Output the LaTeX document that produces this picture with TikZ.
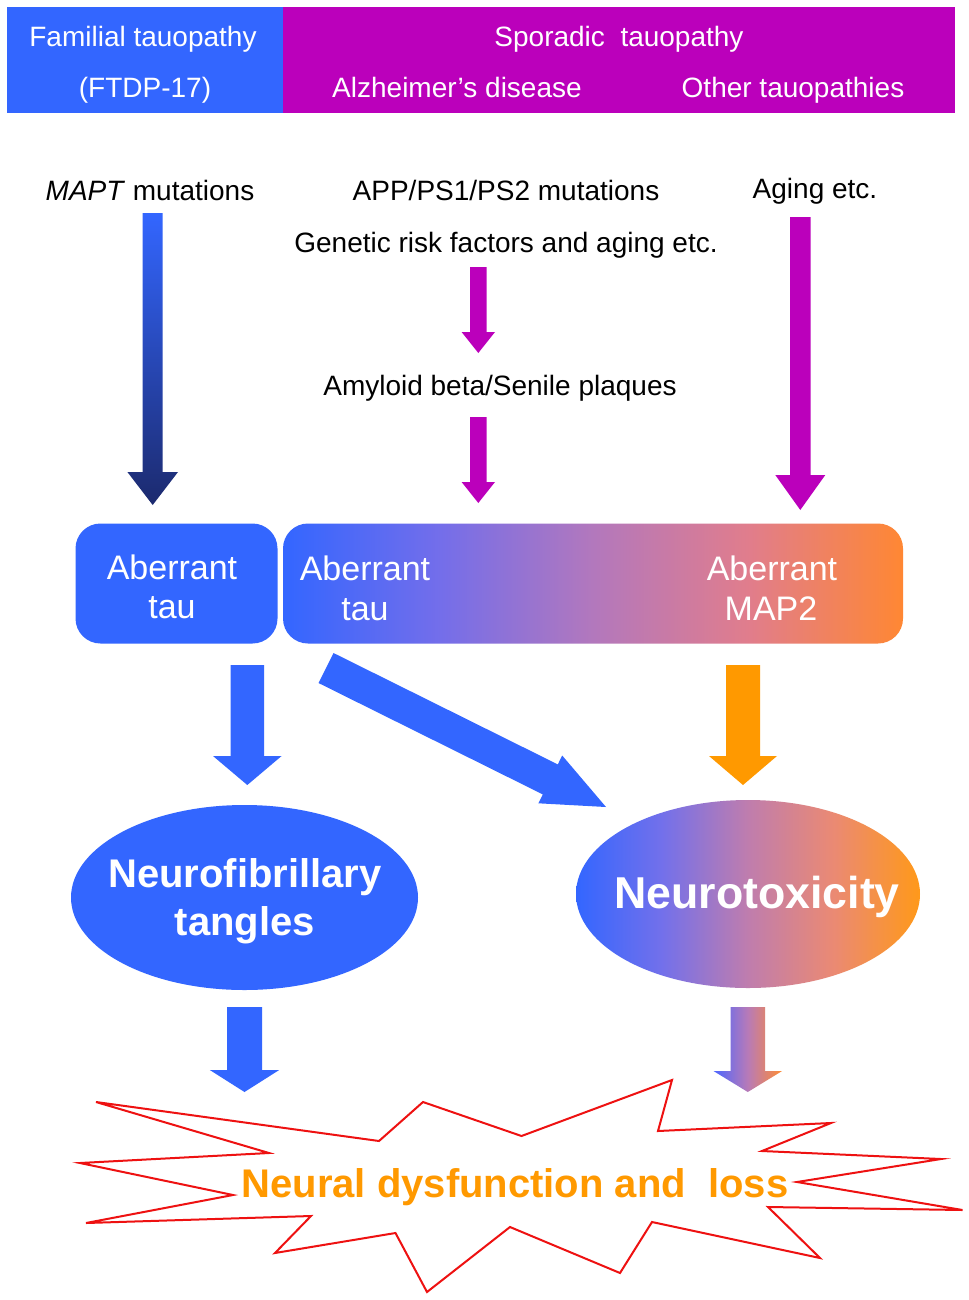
\documentclass[tikz,border=0pt]{standalone}
\usepackage{fontspec}
\setmainfont{Liberation Sans}
\usetikzlibrary{shapes.geometric}
\definecolor{tblue}{HTML}{3366FF}
\definecolor{tmag}{HTML}{BB00BB}
\definecolor{torange}{HTML}{FF9900}
\definecolor{tnavy}{HTML}{1C2A6E}
\definecolor{tgor}{HTML}{FF8833}
\definecolor{tred}{HTML}{EE1111}
\pgfdeclarehorizontalshading{boxgrad}{100bp}{%
  rgb(0bp)=(0.20,0.40,1.00);
  rgb(25bp)=(0.20,0.40,1.00);
  rgb(37.5bp)=(0.45,0.43,0.92);
  rgb(50bp)=(0.70,0.47,0.74);
  rgb(62.5bp)=(0.88,0.49,0.55);
  rgb(75bp)=(1.00,0.53,0.20);
  rgb(100bp)=(1.00,0.53,0.20)}
\pgfdeclarehorizontalshading{ovalgrad}{100bp}{%
  rgb(0bp)=(0.20,0.40,1.00);
  rgb(25bp)=(0.20,0.40,1.00);
  rgb(37.5bp)=(0.45,0.44,0.92);
  rgb(50bp)=(0.75,0.49,0.68);
  rgb(62.5bp)=(0.92,0.54,0.45);
  rgb(75bp)=(1.00,0.60,0.10);
  rgb(100bp)=(1.00,0.60,0.10)}
\pgfdeclarehorizontalshading{arrgrad}{100bp}{%
  rgb(0bp)=(0.30,0.40,1.00);
  rgb(25bp)=(0.30,0.40,1.00);
  rgb(50bp)=(0.72,0.48,0.72);
  rgb(75bp)=(1.00,0.55,0.20);
  rgb(100bp)=(1.00,0.55,0.20)}
% fat down arrow: x, ytop, shaft half width, head half width, y of head base, y of tip
\newcommand{\fatdownpath}[6]{({#1-#3},#2) -- ({#1+#3},#2) -- ({#1+#3},#5) -- ({#1+#4},#5) -- (#1,#6) -- ({#1-#4},#5) -- ({#1-#3},#5) -- cycle}
\begin{document}
\begin{tikzpicture}[x=0.75pt,y=-0.75pt,
  txt/.style={font=\fontsize{21}{25}\selectfont, anchor=base, inner sep=0pt},
  wtxt/.style={txt, text=white},
  boxtxt/.style={font=\fontsize{25.5}{30}\selectfont, anchor=base, inner sep=0pt, text=white},
  bigtxt/.style={font=\bfseries\fontsize{30}{36}\selectfont, anchor=base, inner sep=0pt},
  rbox/.style={rounded corners=18.75pt, minimum height=90pt, inner sep=0pt},
  oval/.style={ellipse, inner sep=0pt},
]
\useasboundingbox (0,0) rectangle (969,1300);
\fill[white] (0,0) rectangle (969,1300);

% banner
\fill[tblue] (7,7) rectangle (283,113);
\fill[tmag] (283,7) rectangle (955,113);
\node[wtxt] (fam) at (143,46) {Familial tauopathy};
\node[wtxt] (ftdp) at (145,97) {(FTDP-17)};
\node[wtxt] (spor) at (619,46) {Sporadic\ \ tauopathy};
\node[wtxt] (ad) at (457,97) {Alzheimer’s disease};
\node[wtxt] (oth) at (793,97) {Other tauopathies};

% causes
\node[txt] (mapt) at (150,200) {\textit{MAPT} mutations};
\node[txt] (app) at (506,200) {APP/PS1/PS2 mutations};
\node[txt] (aging) at (815,198) {Aging etc.};
\node[txt] (gen) at (506,252) {Genetic risk factors and aging etc.};
\node[txt] (amy) at (500,395) {Amyloid beta/Senile plaques};

% thin arrows
\shade[top color=tblue, bottom color=tnavy] \fatdownpath{152.7}{213}{10}{25.3}{472}{505};
\fill[tmag] \fatdownpath{478.3}{267}{8.3}{16.7}{332}{353};
\fill[tmag] \fatdownpath{478.3}{417}{8.3}{16.7}{482}{503};
\fill[tmag] \fatdownpath{800.3}{217}{10.3}{25}{475}{510};

% aberrant boxes
\node[rbox, fill=tblue, minimum width=151.5pt] (box1) at (176.5,583.5) {};
\node[rbox, shading=boxgrad, minimum width=465pt] (box2) at (593,583.5) {};
\node[boxtxt] (ab1) at (172,579) {Aberrant};
\node[boxtxt] (tau1) at (172,618) {tau};
\node[boxtxt] (ab2) at (365,580) {Aberrant};
\node[boxtxt] (tau2) at (365,620) {tau};
\node[boxtxt] (ab3) at (772,580) {Aberrant};
\node[boxtxt] (map2) at (771,620) {MAP2};

% fat arrows
\fill[tblue] \fatdownpath{247.3}{665}{16.7}{34.3}{756}{785};
\fill[torange] \fatdownpath{743}{665}{17}{34}{756}{785};
\fill[tblue] (318.5,683) -- (333.5,653) -- (557.8,764.4) -- (562.2,755.5) -- (606,807) -- (538.4,803.3) -- (542.8,794.4) -- cycle;

% ovals
\node[oval, fill=tblue, minimum width=260.25pt, minimum height=138.75pt] (nft) at (244.5,897.5) {};
\node[oval, shading=ovalgrad, minimum width=258pt, minimum height=141pt] (ntx) at (748,894) {};
\node[bigtxt, text=white] (nft1) at (245,887) {Neurofibrillary};
\node[bigtxt, text=white] (nft2) at (245,935) {tangles};
\node[bigtxt, text=white, font=\bfseries\fontsize{33.5}{38}\selectfont] (ntxt) at (757,908) {Neurotoxicity};

% bottom arrows
\fill[tblue] \fatdownpath{244.5}{1007}{17.5}{34.7}{1070}{1092};
\shade[shading=arrgrad] \fatdownpath{747.8}{1007}{17.2}{34.3}{1071}{1092};

% starburst
\draw[tred, line width=1.5pt, line join=miter, fill=white]
  (96,1102) -- (379,1141) -- (423,1102) -- (521.5,1136) -- (672,1080) -- (658,1131)
  -- (831,1123) -- (762,1151) -- (941,1159) -- (797,1182) -- (962.5,1210) -- (768,1207)
  -- (820,1258) -- (652,1222) -- (620,1273) -- (510,1227) -- (427,1292) -- (395.5,1233)
  -- (275,1253) -- (311,1216) -- (86,1223) -- (233,1195) -- (80,1163) -- (269,1153) -- cycle;
\node[bigtxt, text=torange] (loss) at (515,1197) {Neural dysfunction and\ \ loss};
\end{tikzpicture}
\end{document}
